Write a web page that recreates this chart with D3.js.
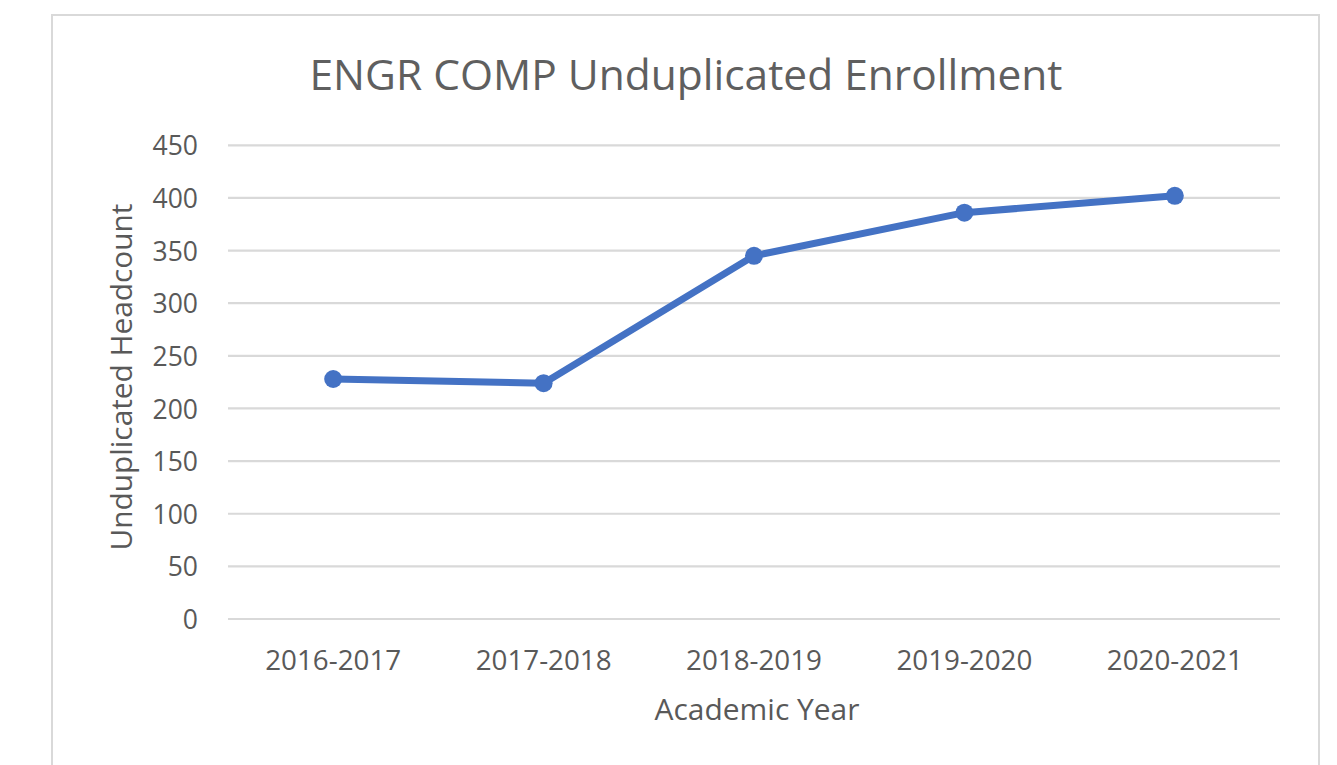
<!DOCTYPE html>
<html>
<head>
<meta charset="utf-8">
<script src="https://cdn.jsdelivr.net/npm/d3@7"></script>
<style>
  html, body { margin: 0; padding: 0; background: #fff; }
  svg { display: block; }
  text { font-family: "Open Sans", "Liberation Sans", sans-serif; fill: #595959; }
</style>
</head>
<body>
<svg id="chart" width="1337" height="765"></svg>
<script>
const categories = ["2016-2017", "2017-2018", "2018-2019", "2019-2020", "2020-2021"];
const headcount = [228, 224, 345, 386, 402];
const yTicks = [0, 50, 100, 150, 200, 250, 300, 350, 400, 450];
const titleText = "ENGR COMP Unduplicated Enrollment";
const xTitle = "Academic Year";
const yTitle = "Unduplicated Headcount";

const svg = d3.select("#chart");
const W = 1337, H = 765;
svg.append("rect").attr("width", W).attr("height", H).attr("fill", "#fff");

// chart area border
svg.append("rect")
  .attr("x", 52).attr("y", 15).attr("width", 1267).attr("height", 800)
  .attr("fill", "#fff").attr("stroke", "#d9d9d9").attr("stroke-width", 2);

const plot = { left: 228, right: 1280, top: 145.3, bottom: 619 };

const x = d3.scaleBand().domain(categories).range([plot.left, plot.right]).paddingInner(0).paddingOuter(0);
const y = d3.scaleLinear().domain([0, 450]).range([plot.bottom, plot.top]);

function fitText(sel, targetWidth, baseSize) {
  sel.style("font-size", baseSize + "px");
  const w = sel.node().getComputedTextLength();
  sel.style("font-size", (baseSize * targetWidth / w).toFixed(2) + "px");
}

// gridlines
svg.append("g").selectAll("line.grid").data(yTicks).enter().append("line")
  .attr("class", "grid")
  .attr("x1", plot.left).attr("x2", plot.right)
  .attr("y1", d => y(d)).attr("y2", d => y(d))
  .attr("stroke", "#d9d9d9").attr("stroke-width", 2.2);

// y tick labels via axis
const yAxis = d3.axisLeft(y).tickValues(yTicks).tickSize(0).tickPadding(0);
const yAxisG = svg.append("g").attr("transform", `translate(198,0)`).call(yAxis);
yAxisG.select(".domain").remove();
yAxisG.selectAll("text")
  .attr("x", 0).attr("dy", "0.36em")
  .style("font-size", "26.5px").style("fill", "#595959")
  .style("font-family", '"Open Sans", sans-serif');

// x tick labels via axis
const xAxis = d3.axisBottom(x).tickSize(0).tickPadding(0);
const xAxisG = svg.append("g").attr("transform", `translate(0,${plot.bottom})`).call(xAxis);
xAxisG.select(".domain").remove();
xAxisG.selectAll("text")
  .attr("y", 51).attr("dy", 0)
  .style("font-family", '"Open Sans", sans-serif')
  .style("fill", "#595959");
xAxisG.selectAll("text").each(function() { fitText(d3.select(this), 136, 25); });

// line
const line = d3.line()
  .x((d, i) => x(categories[i]) + x.bandwidth() / 2)
  .y(d => y(d));
svg.append("path")
  .datum(headcount)
  .attr("d", line)
  .attr("fill", "none")
  .attr("stroke", "#4472C4")
  .attr("stroke-width", 7)
  .attr("stroke-linejoin", "round")
  .attr("stroke-linecap", "round");

svg.selectAll("circle.pt").data(headcount).enter().append("circle")
  .attr("class", "pt")
  .attr("cx", (d, i) => x(categories[i]) + x.bandwidth() / 2)
  .attr("cy", d => y(d))
  .attr("r", 9)
  .attr("fill", "#4472C4");

// title
const t = svg.append("text")
  .attr("x", 686).attr("y", 90)
  .attr("text-anchor", "middle")
  .style("fill", "#5f5f5f")
  .text(titleText);
fitText(t, 753, 38);

// x axis title
const xt = svg.append("text")
  .attr("x", 757).attr("y", 720)
  .attr("text-anchor", "middle")
  .text(xTitle);
fitText(xt, 205, 26);

// y axis title
const yt = svg.append("text")
  .attr("transform", "translate(132,377) rotate(-90)")
  .attr("text-anchor", "middle")
  .text(yTitle);
fitText(yt, 347, 26);
</script>
</body>
</html>
